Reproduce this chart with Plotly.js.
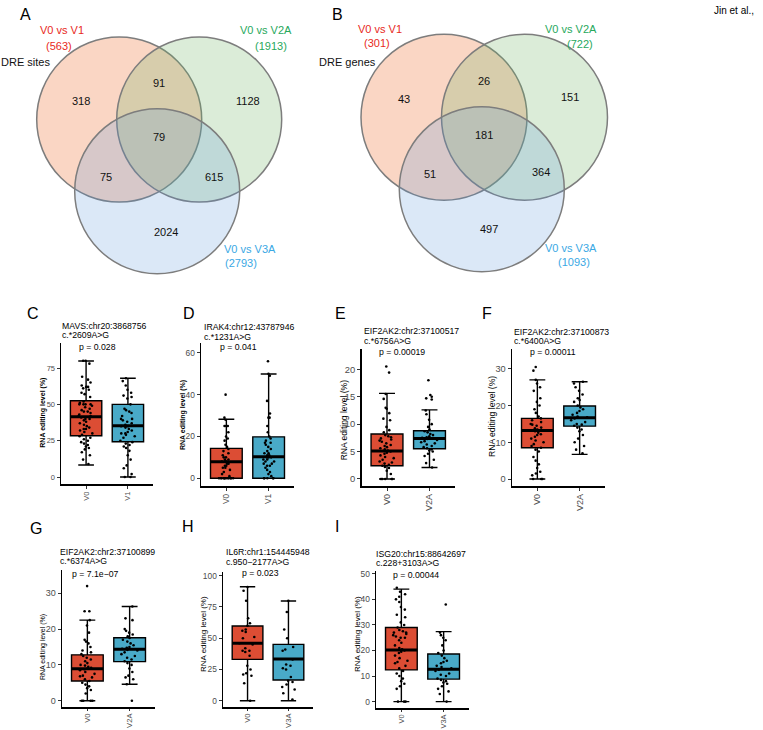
<!DOCTYPE html>
<html><head><meta charset="utf-8">
<script src="https://cdn.plot.ly/plotly-3.0.1.min.js"></script>
<style>html,body{margin:0;padding:0;background:#fff}</style>
</head><body><div id="chart" style="width:763px;height:730px"></div>
<script>
const W = 763, H = 730;
const FONT = 'Arial, "Liberation Sans", sans-serif';

// ---------- Venn data ----------
const vennSets = ['V0 vs V1', 'V0 vs V2A', 'V0 vs V3A'];
// regions: V1 only, V1∩V2A, V2A only, all three, V1∩V3A, V2A∩V3A, V3A only
const vennA_counts = [318, 91, 1128, 79, 75, 615, 2024];
const vennA_totals = [563, 1913, 2793];
const vennA_caption = 'DRE sites';
const vennB_counts = [43, 26, 151, 181, 51, 364, 497];
const vennB_totals = [301, 722, 1093];
const vennB_caption = 'DRE genes';

// ---------- Box plot data ----------
const C_cats = ['V0', 'V1'];
const C_q1 = [28.4, 24.3], C_med = [41.5, 35.3], C_q3 = [52.5, 50.0], C_lo = [8.3, 0], C_hi = [79.8, 68.0];
const C_V0 = [80,80,78,69,67,65,63,62,62,61,60,58,57,55,52,51,50,50,50,50,49,48,47,46,45,45,44,43,42,42,41,40,40,39,38,37,36,35,34,33,33,32,31,30,29,28,27,26,25,24,23,22,21,20,19,17,15,12,9];
const C_V1 = [68,66,63,60,58,56,55,54,50,47,46,45,44,42,40,40,39,38,37,36,35,35,34,33,32,31,30,30,29,28,27,25,24,23,22,21,20,18,15,12,8,6,2,0,0];

const D_cats = ['V0', 'V1'];
const D_q1 = [0, 0], D_med = [7.9, 10.3], D_q3 = [14.3, 19.8], D_lo = [0, 0], D_hi = [28.2, 49.9];
const D_V0 = [40,29,28,25,25,25,22,20,19,18,16,15,14,13,12,11,10,10,9,9,8,8,8,7,7,6,6,5,5,4,3,2,1,0,0,0,0,0,0,0,0,0,0,0,0];
const D_V1 = [56,50,49,37,31,29,29,25,22,20,19,18,17,17,16,15,14,13,12,12,11,11,10,10,10,9,9,8,8,7,7,6,6,5,4,3,2,1,0,0,0,0,0];

const E_cats = ['V0', 'V2A'];
const E_q1 = [2.4, 5.5], E_med = [5.1, 7.4], E_q3 = [8.2, 8.8], E_lo = [0, 2.1], E_hi = [15.6, 12.6];
const E_V0 = [20.5,19.4,15.5,14.6,13.0,12.8,12.0,11.0,10.7,9.5,8.9,8.5,8.0,7.8,7.6,7.4,7.2,7.0,6.8,6.5,6.2,6.0,5.8,5.6,5.4,5.2,5.0,4.8,4.6,4.3,4.0,3.8,3.5,3.2,3.0,2.8,2.6,2.4,2.2,2.0,1.5,0.9,0,0,0,0,0];
const E_V2A = [18.0,15.3,15.0,14.7,14.5,12.5,11.8,10.8,10.0,9.5,9.0,8.7,8.5,8.2,8.0,7.8,7.6,7.5,7.3,7.1,6.9,6.7,6.5,6.3,6.0,5.8,5.6,5.4,5.2,5.0,4.6,4.2,3.5,2.9,2.1];

const F_cats = ['V0', 'V2A'];
const F_q1 = [8.5, 14.4], F_med = [13.2, 16.7], F_q3 = [16.5, 19.9], F_lo = [0, 6.7], F_hi = [27, 26.5];
const F_V0 = [30.5,29.5,27,26,25,24,22,21,20,19,18,17,16.5,16,15.5,15,14.8,14.5,14,13.8,13.5,13.2,13,12.6,12.2,12,11.5,11,10.5,10,9.5,9,8.5,8,7.5,6,5,4,3,2,1.5,1,0,0,0];
const F_V2A = [26.5,26,25,24,23,22,21.5,21,20,19.5,19,18.5,18,17.5,17,16.8,16.5,16,15.5,15,14.8,14.5,14,13.5,13,12,11,10,9,8,7];

const G_cats = ['V0', 'V2A'];
const G_q1 = [5.5, 10.9], G_med = [8.9, 14.4], G_q3 = [12.8, 17.6], G_lo = [0, 4.6], G_hi = [22.5, 26.3];
const G_V0 = [32,25,25,22.5,21,19,17,16.5,16,15,14,13.5,13,12.5,12,11.5,11,10.5,10,9.8,9.5,9.2,9,8.8,8.5,8,7.5,7,6.8,6.5,6,5.5,5,4.5,4,3.5,3,2,0,0,0,0];
const G_V2A = [26.3,23,22.5,20,19.5,19,18.5,18,17.5,17,16.5,16,15.5,15,14.8,14.5,14.2,14,13.5,13,12.5,12,11.5,11,10.5,10,9,8,7,6.5,6,4.6,0];

const H_cats = ['V0', 'V3A'];
const H_q1 = [33.1, 16.6], H_med = [45.9, 33.4], H_q3 = [59.8, 45.1], H_lo = [0, 0], H_hi = [91.2, 79.8];
const H_V0 = [91,88,80,66,62,60,57,56,55,51,50,46,45,42,40,40,39,36,28,25,22,21,20,14,0];
const H_V3A = [80,71,57,50,43,41,40,33,29,28,26,25,19,16,15,13,11,9,6,1];

const I_cats = ['V0', 'V3A'];
const I_q1 = [12.4, 8.8], I_med = [20.2, 12.7], I_q3 = [29, 18.6], I_lo = [0, 0], I_hi = [44, 27.4];
const I_V0 = [44.5,43,42,41,40,39,37,36,34,33,31,30,29,28,27.5,27,27,26.5,26,25.5,25,25,24,23,22,21,20.5,20,19.5,19,18,17,16,15.5,15,14,13,12,11,10,9,8,7,6,5,0,0,0];
const I_V3A = [38,27,26,25,24,22,20,19,18,17,16,15.5,15,14,13.5,13,12.5,12,11,10.5,10,9,8.5,8,7.5,7,6,5,4,3,0];

const panelLetters = ['C', 'D', 'E', 'F', 'G', 'H', 'I'];
const panelGenes = ['MAVS:chr20:3868756', 'IRAK4:chr12:43787946', 'EIF2AK2:chr2:37100517', 'EIF2AK2:chr2:37100873', 'EIF2AK2:chr2:37100899', 'IL6R:chr1:154445948', 'ISG20:chr15:88642697'];
const panelVariants = ['c.*2609A>G', 'c.*1231A>G', 'c.*6756A>G', 'c.*6400A>G', 'c.*6374A>G', 'c.950\u22122177A>G', 'c.228+3103A>G'];
const panelPvals = ['p = 0.028', 'p = 0.041', 'p = 0.00019', 'p = 0.00011', 'p = 7.1e\u221207', 'p = 0.023', 'p = 0.00044'];
const yTitle = 'RNA editing level (%)';

// ---------- layout geometry (pixels) ----------
const geo = [
  {xd:[61,153], yd:[343,484], yr:[-4.8,92.2], dt:25, tf:7.5, xf:7.5, xl:3, tx:60, t1:325.7, t2:335.3, px:97, py:346.7, yx:42.7, yy:413, ys:7, yb:true, lx:33, ly:313},
  {xd:[201,294], yd:[343,486], yr:[-3.7,64.7], dt:20, tf:8.4, xf:8.4, xl:3, tx:201.7, t1:326.7, t2:336.7, px:238, py:347, yx:183, yy:415, ys:7, yb:true, lx:189, ly:313},
  {xd:[361.5,455], yd:[349,486], yr:[-1.28,23.7], dt:5, tf:9.4, xf:9, xl:3, tx:361.7, t1:331.3, t2:340.7, px:401.7, py:352, yx:344.3, yy:420, ys:8.5, yb:false, lx:340, ly:313},
  {xd:[512,605], yd:[349,486], yr:[-1.9,35.4], dt:10, tf:9.2, xf:9, xl:3, tx:512.3, t1:331.7, t2:340.7, px:553.3, py:352.3, yx:492, yy:417, ys:8.6, yb:false, lx:487, ly:313},
  {xd:[62,155], yd:[570,707], yr:[-1.76,36.5], dt:10, tf:9, xf:7.6, xl:2, tx:57.7, t1:552, t2:561.3, px:95, py:573.7, yx:43, yy:647, ys:7, yb:false, lx:36, ly:528},
  {xd:[223,313], yd:[572,707], yr:[-5.04,103], dt:25, tf:8.4, xf:7.6, xl:2, tx:224.3, t1:552.3, t2:562, px:260, py:573.3, yx:203, yy:634, ys:8, yb:false, lx:188, ly:526},
  {xd:[376,469], yd:[571,708], yr:[-2.5,51.1], dt:10, tf:8.4, xf:7.4, xl:2, tx:374.3, t1:554, t2:563, px:416, py:574.7, yx:357, yy:634, ys:8, yb:false, lx:337, ly:526}
];

const panels = [
  {cats:C_cats, q1:C_q1, med:C_med, q3:C_q3, lo:C_lo, hi:C_hi, pts:[C_V0, C_V1]},
  {cats:D_cats, q1:D_q1, med:D_med, q3:D_q3, lo:D_lo, hi:D_hi, pts:[D_V0, D_V1]},
  {cats:E_cats, q1:E_q1, med:E_med, q3:E_q3, lo:E_lo, hi:E_hi, pts:[E_V0, E_V2A]},
  {cats:F_cats, q1:F_q1, med:F_med, q3:F_q3, lo:F_lo, hi:F_hi, pts:[F_V0, F_V2A]},
  {cats:G_cats, q1:G_q1, med:G_med, q3:G_q3, lo:G_lo, hi:G_hi, pts:[G_V0, G_V2A]},
  {cats:H_cats, q1:H_q1, med:H_med, q3:H_q3, lo:H_lo, hi:H_hi, pts:[H_V0, H_V3A]},
  {cats:I_cats, q1:I_q1, med:I_med, q3:I_q3, lo:I_lo, hi:I_hi, pts:[I_V0, I_V3A]}
];

const boxFill = ['#DC4D34', '#49AAC8'];

const fx = x => x / W;
const fy = y => 1 - y / H;

const traces = [];
const layout = {
  width: W, height: H,
  margin: {l:0, r:0, t:0, b:0},
  paper_bgcolor: '#ffffff', plot_bgcolor: 'rgba(0,0,0,0)',
  showlegend: false, boxmode: 'overlay',
  font: {family: FONT, color: '#000'},
  annotations: [], shapes: []
};

function ann(x, y, text, opts) {
  layout.annotations.push(Object.assign({
    xref:'paper', yref:'paper', x: fx(x), y: fy(y), text: text, showarrow: false,
    xanchor:'center', yanchor:'middle', font:{family:FONT, size:11, color:'#000'}
  }, opts || {}));
}

// ---------- box panels ----------
panels.forEach((p, i) => {
  const g = geo[i];
  const n = i + 1;
  const xa = n === 1 ? 'x' : 'x' + n;
  const ya = n === 1 ? 'y' : 'y' + n;
  layout[n === 1 ? 'xaxis' : 'xaxis' + n] = {
    domain:[fx(g.xd[0]), fx(g.xd[1])], anchor: ya, type:'category',
    categoryorder:'array', categoryarray:p.cats, range:[-0.6, 1.6],
    showline:true, linecolor:'#000', linewidth:1.5, ticks:'outside', ticklen:g.xl, tickwidth:1, tickcolor:'#333',
    tickfont:{family:FONT, size:g.xf, color:'#4d4d4d'}, tickangle:-90, showgrid:false, zeroline:false, fixedrange:true
  };
  layout[n === 1 ? 'yaxis' : 'yaxis' + n] = {
    domain:[fy(g.yd[1]), fy(g.yd[0])], anchor: xa, range:g.yr, tick0:0, dtick:g.dt,
    showline:true, linecolor:'#000', linewidth:1.5, ticks:'outside', ticklen:3, tickwidth:1, tickcolor:'#333',
    tickfont:{family:FONT, size:g.tf, color:'#4d4d4d'}, showgrid:false, zeroline:false, fixedrange:true
  };
  p.cats.forEach((c, k) => {
    traces.push({
      type:'box', x:[c], q1:[p.q1[k]], median:[p.med[k]], q3:[p.q3[k]],
      lowerfence:[p.lo[k]], upperfence:[p.hi[k]], width:0.75,
      fillcolor: boxFill[k], line:{color:'#000', width:1.4}, boxpoints:false,
      xaxis:xa, yaxis:ya, hoverinfo:'skip'
    });
    // thicker median line
    traces.push({
      type:'box', x:[c], q1:[p.med[k]], median:[p.med[k]], q3:[p.med[k]],
      lowerfence:[p.med[k]], upperfence:[p.med[k]], width:0.75,
      fillcolor:'rgba(0,0,0,0)', line:{color:'#000', width:3}, boxpoints:false,
      xaxis:xa, yaxis:ya, hoverinfo:'skip'
    });
  });
  p.cats.forEach((c, k) => {
    traces.push({
      type:'box', x0:c, y:p.pts[k], width:0.75, boxpoints:'all', jitter:0.55, pointpos:0,
      fillcolor:'rgba(0,0,0,0)', line:{color:'rgba(0,0,0,0)', width:0},
      marker:{size:2.6, color:'#000', line:{width:0}},
      xaxis:xa, yaxis:ya, hoverinfo:'skip'
    });
  });
  ann(g.lx, g.ly, panelLetters[i], {font:{family:FONT, size:16, color:'#000'}});
  ann(g.tx, g.t1, panelGenes[i], {xanchor:'left', font:{family:FONT, size:8.7, color:'#000'}});
  ann(g.tx, g.t2, panelVariants[i], {xanchor:'left', font:{family:FONT, size:8.7, color:'#000'}});
  ann(g.px, g.py, panelPvals[i], {font:{family:FONT, size:8.7, color:'#000'}});
  ann(g.yx, g.yy, g.yb ? '<b>' + yTitle + '</b>' : yTitle, {textangle:-90, font:{family:FONT, size:g.ys, color:'#000'}});
});

// ---------- Venn diagrams ----------
const vennFill = ['rgba(240,120,60,0.3)', 'rgba(110,180,100,0.25)', 'rgba(90,150,220,0.22)'];
const vennLabelColor = ['#E8291C', '#27A85C', '#3AA8E4'];
const venns = [
  {counts:vennA_counts, totals:vennA_totals, caption:vennA_caption, letter:'A', letterPos:[25,15],
   circles:[[119.2,119.5,82.5],[199.2,119.5,82.5],[157.2,191.2,82.5]],
   countPos:[[81,101],[159,83.3],[248,101],[158.7,136.7],[106,176.7],[214.3,176.7],[165.7,231.7]],
   labelPos:[[[62.3,30],[59.3,45.7]],[[265.8,30],[271,45.7]],[[249.5,249.3],[240.5,263.3]]],
   captionPos:[25.7,62.3]},
  {counts:vennB_counts, totals:vennB_totals, caption:vennB_caption, letter:'B', letterPos:[337,15],
   circles:[[444,117.2,83],[524.5,117.2,83],[481.8,189.2,82.5]],
   countPos:[[404.3,99],[484,81],[570,97],[484,135],[430,174],[541,172],[489.3,229.3]],
   labelPos:[[[380,29],[376.7,43.3]],[[571,29],[580,44]],[[570.5,248],[573.5,262]]],
   captionPos:[347.3,61.7]}
];
venns.forEach(v => {
  v.circles.forEach((c, k) => {
    layout.shapes.push({
      type:'circle', xref:'paper', yref:'paper',
      x0:fx(c[0]-c[2]), x1:fx(c[0]+c[2]), y0:fy(c[1]+c[2]), y1:fy(c[1]-c[2]),
      fillcolor:vennFill[k], line:{color:'rgb(125,125,125)', width:1.5}, layer:'below'
    });
  });
  v.counts.forEach((n, k) => ann(v.countPos[k][0], v.countPos[k][1], String(n), {font:{family:FONT, size:11, color:'#111'}}));
  vennSets.forEach((s, k) => {
    ann(v.labelPos[k][0][0], v.labelPos[k][0][1], s, {font:{family:FONT, size:11, color:vennLabelColor[k]}});
    ann(v.labelPos[k][1][0], v.labelPos[k][1][1], '(' + v.totals[k] + ')', {font:{family:FONT, size:11, color:vennLabelColor[k]}});
  });
  ann(v.captionPos[0], v.captionPos[1], v.caption, {font:{family:FONT, size:11, color:'#111'}});
  ann(v.letterPos[0], v.letterPos[1], v.letter, {font:{family:FONT, size:16, color:'#000'}});
});

ann(756, 10, 'Jin et al.,', {xanchor:'right', font:{family:FONT, size:10, color:'#000'}});

Plotly.newPlot('chart', traces, layout, {staticPlot:true, displayModeBar:false});
</script></body></html>
